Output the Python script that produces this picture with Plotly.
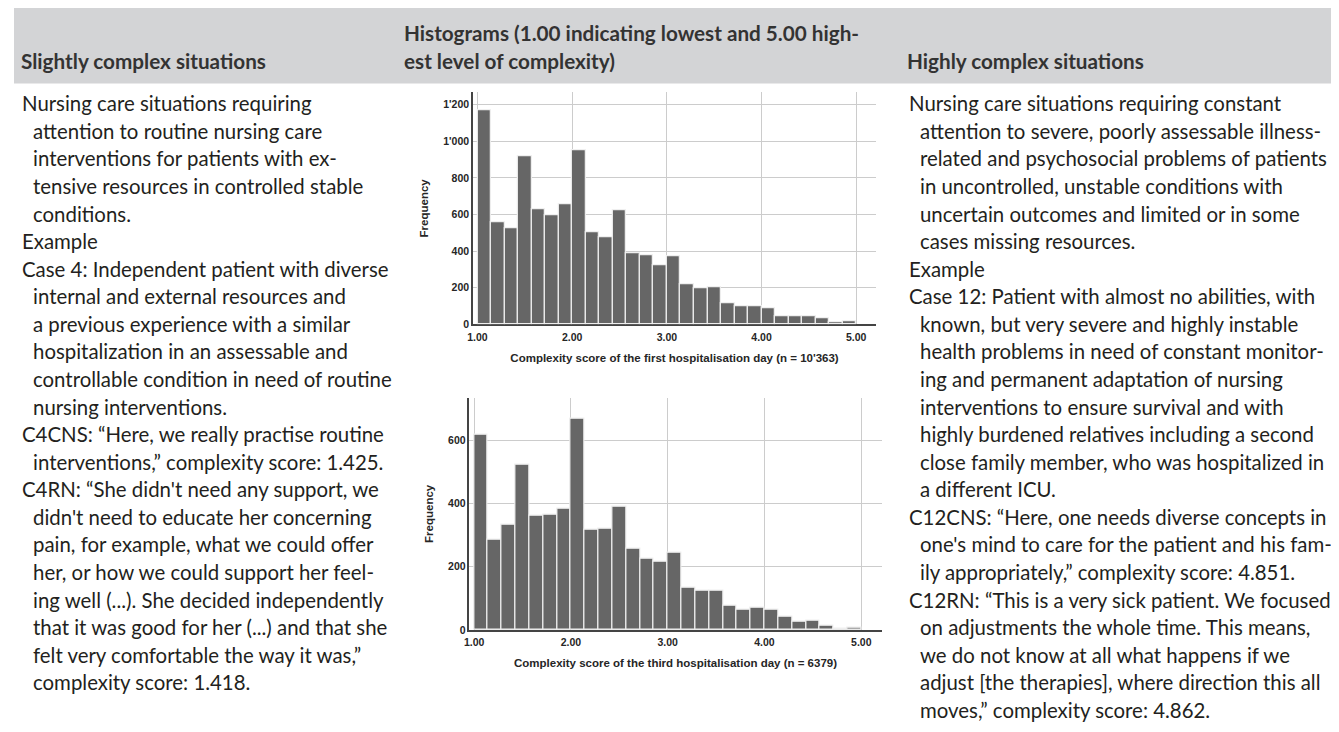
import plotly.graph_objects as go

W, H = 1339, 732

# ---------------- data ----------------
bin_start = 1.0
bin_width = 1 / 7
freq_day1 = [1170, 560, 527, 919, 630, 596, 657, 948, 505, 473, 623, 386, 379, 323,
             372, 220, 195, 202, 114, 97, 99, 88, 43, 43, 43, 31, 9, 18]
freq_day3 = [620, 287, 332, 522, 362, 364, 385, 668, 317, 319, 389, 256, 227, 216,
             246, 133, 125, 125, 75, 63, 69, 64, 40, 27, 30, 14, 3, 7]
x_title_day1 = "Complexity score of the first hospitalisation day (n = 10'363)"
x_title_day3 = "Complexity score of the third hospitalisation day (n = 6379)"

header_left = "Slightly complex situations"
header_mid = ["Histograms (1.00 indicating lowest and 5.00 high-", "est level of complexity)"]
header_right = "Highly complex situations"

# (text, is_first_line_of_paragraph)
left_lines = [
    ("Nursing care situations requiring", True),
    ("attention to routine nursing care", False),
    ("interventions for patients with ex-", False),
    ("tensive resources in controlled stable", False),
    ("conditions.", False),
    ("Example", True),
    ("Case 4: Independent patient with diverse", True),
    ("internal and external resources and", False),
    ("a previous experience with a similar", False),
    ("hospitalization in an assessable and", False),
    ("controllable condition in need of routine", False),
    ("nursing interventions.", False),
    ("C4CNS: \u201cHere, we really practise routine", True),
    ("interventions,\u201d complexity score: 1.425.", False),
    ("C4RN: \u201cShe didn't need any support, we", True),
    ("didn't need to educate her concerning", False),
    ("pain, for example, what we could offer", False),
    ("her, or how we could support her feel-", False),
    ("ing well (...). She decided independently", False),
    ("that it was good for her (...) and that she", False),
    ("felt very comfortable the way it was,\u201d", False),
    ("complexity score: 1.418.", False),
]
right_lines = [
    ("Nursing care situations requiring constant", True),
    ("attention to severe, poorly assessable illness-", False),
    ("related and psychosocial problems of patients", False),
    ("in uncontrolled, unstable conditions with", False),
    ("uncertain outcomes and limited or in some", False),
    ("cases missing resources.", False),
    ("Example", True),
    ("Case 12: Patient with almost no abilities, with", True),
    ("known, but very severe and highly instable", False),
    ("health problems in need of constant monitor-", False),
    ("ing and permanent adaptation of nursing", False),
    ("interventions to ensure survival and with", False),
    ("highly burdened relatives including a second", False),
    ("close family member, who was hospitalized in", False),
    ("a different ICU.", False),
    ("C12CNS: \u201cHere, one needs diverse concepts in", True),
    ("one's mind to care for the patient and his fam-", False),
    ("ily appropriately,\u201d complexity score: 4.851.", False),
    ("C12RN: \u201cThis is a very sick patient. We focused", True),
    ("on adjustments the whole time. This means,", False),
    ("we do not know at all what happens if we", False),
    ("adjust [the therapies], where direction this all", False),
    ("moves,\u201d complexity score: 4.862.", False),
]

# ---------------- helpers ----------------
DX = -5  # horizontal fine adjustment

def px(x):
    return (x + DX) / W

def py(y):
    return 1 - y / H

BAR_COLOR = "#666666"
GRID = "#cccccc"
TXT = "#231f20"
AX_TXT = "#262626"
AX_FONT = "Liberation Sans, Arial"

centers = [bin_start + bin_width * (i + 0.5) for i in range(len(freq_day1))]

fig = go.Figure()
fig.add_trace(go.Bar(x=centers, y=freq_day1, width=bin_width, xaxis="x", yaxis="y",
                     marker=dict(color=BAR_COLOR, line=dict(color="#efefef", width=1.2)),
                     hoverinfo="x+y", showlegend=False))
fig.add_trace(go.Bar(x=centers, y=freq_day3, width=bin_width, xaxis="x2", yaxis="y2",
                     marker=dict(color=BAR_COLOR, line=dict(color="#efefef", width=1.2)),
                     hoverinfo="x+y", showlegend=False))

tickfont = dict(family=AX_FONT, size=10.5, color=AX_TXT, weight="bold")
titlefont = dict(family=AX_FONT, size=11.5, color=AX_TXT, weight="bold")

def xax(domain, anchor, title):
    return dict(domain=domain, anchor=anchor, range=[0.952, 5.21], tick0=1, dtick=1,
                tickformat=".2f", showgrid=True, gridcolor=GRID, gridwidth=1,
                zeroline=False, showline=True, linecolor="#444444", linewidth=1.5,
                layer="below traces", tickfont=tickfont, ticks="outside", ticklen=2,
                tickcolor="rgba(0,0,0,0)",
                title=dict(text=title, font=titlefont, standoff=12))

def yax(domain, anchor, rng, dtick):
    return dict(domain=domain, anchor=anchor, range=rng, dtick=dtick, tickformat=",d",
                showgrid=True, gridcolor=GRID, gridwidth=1, zeroline=False,
                showline=True, linecolor="#444444", linewidth=1.5, layer="below traces",
                tickfont=tickfont, ticks="", ticklen=0,
                title=dict(text="Frequency", font=titlefont, standoff=12))

fig.update_layout(
    width=W, height=H, margin=dict(l=0, r=0, t=0, b=0),
    paper_bgcolor="white", plot_bgcolor="white",
    separators=".'", bargap=0,
    xaxis=xax([px(466), px(871)], "y", x_title_day1),
    yaxis=yax([py(319), py(85)], "x", [0, 1267], 200),
    xaxis2=xax([px(462.5), px(876.5)], "y2", x_title_day3),
    yaxis2=yax([py(627), py(393)], "x2", [0, 736], 200),
)

# header band
fig.add_shape(type="rect", xref="paper", yref="paper", x0=0, x1=1, y0=py(76), y1=1,
              fillcolor="#d3d4d6", line=dict(width=0), layer="below")

hfont = dict(family="Lato", size=20.7, color="#333333", weight="bold")
ann = []
ann.append(dict(text=header_left, x=px(12), y=py(53.5)))
ann.append(dict(text=header_mid[0], x=px(397), y=py(25.5)))
ann.append(dict(text=header_mid[1], x=px(397), y=py(53.5)))
ann.append(dict(text=header_right, x=px(902), y=py(53.5)))
for a in ann:
    a.update(xref="paper", yref="paper", xanchor="left", yanchor="middle",
             showarrow=False, font=hfont, borderpad=0, borderwidth=0)
    fig.add_annotation(**a)

bfont = dict(family="Lato", size=20.4, color=TXT)
LINE_H = 27.8

def add_block(lines, x_first, x_cont, y0):
    for i, (t, first) in enumerate(lines):
        fig.add_annotation(text=t, x=px(x_first if first else x_cont), y=py(y0 + i * LINE_H),
                           xref="paper", yref="paper", xanchor="left", yanchor="middle",
                           showarrow=False, font=bfont, borderpad=0, borderwidth=0)

add_block(left_lines, 13, 23.7, 96)
add_block(right_lines, 904, 914.7, 96)

fig.write_html("out.html")
